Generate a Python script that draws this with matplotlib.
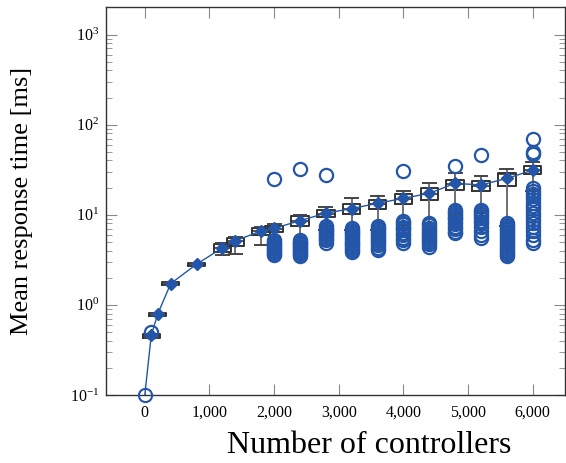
import matplotlib
matplotlib.use("Agg")
import matplotlib.pyplot as plt
from matplotlib.ticker import FuncFormatter, LogLocator

# ==============================
# DATA
# ==============================
positions = [100, 200, 400, 800, 1200, 1400, 1800, 2000, 2400, 2800,
             3200, 3600, 4000, 4400, 4800, 5200, 5600, 6000]

means = [0.46, 0.79, 1.72, 2.82, 4.3, 5.15, 6.6, 7.05, 8.6, 10.4,
         11.7, 13.4, 15.2, 17.3, 22.3, 21.4, 25.3, 31.3]
medians = [0.45, 0.78, 1.7, 2.8, 4.3, 5.1, 6.6, 7.0, 8.5, 10.3,
           11.6, 13.3, 15.0, 17.0, 22.0, 21.0, 28.0, 31.5]
q1 = [0.43, 0.75, 1.64, 2.72, 3.9, 4.5, 6.0, 6.5, 7.5, 9.5,
      10.2, 11.5, 13.1, 14.6, 18.8, 18.5, 20.6, 28.2]
q3 = [0.48, 0.82, 1.78, 2.92, 4.7, 5.5, 7.2, 7.5, 9.8, 11.3,
      13.0, 14.6, 16.8, 19.6, 24.2, 23.8, 28.7, 34.6]
whis_lo = [0.43, 0.75, 1.64, 2.72, 3.6, 3.65, 4.6, 5.0, 4.9, 6.8,
           6.8, 6.8, 7.7, 7.2, 10.3, 10.5, 7.5, 18.5]
whis_hi = [0.48, 0.82, 1.78, 2.92, 4.8, 5.6, 7.4, 7.8, 9.9, 12.1,
           15.4, 16.1, 18.3, 22.6, 28.7, 26.8, 32.0, 38.7]

outliers = [
    [0.5],
    [],
    [],
    [],
    [],
    [],
    [],
    [24.8, 5.2, 5.0, 4.8, 4.6, 4.5, 4.3, 4.2, 4.0, 3.9, 3.7, 3.6],
    [32.0, 5.2, 5.0, 4.8, 4.7, 4.5, 4.4, 4.2, 4.1, 3.9, 3.8, 3.6, 3.5],
    [27.5, 7.5, 7.2, 6.9, 6.6, 6.4, 6.1, 5.9, 5.6, 5.4, 5.2, 4.9],
    [7.1, 6.8, 6.5, 6.2, 5.9, 5.6, 5.4, 5.1, 4.9, 4.7, 4.5, 4.3, 4.1, 3.9],
    [7.5, 7.2, 6.9, 6.6, 6.3, 6.0, 5.7, 5.4, 5.1, 4.8, 4.6, 4.3, 4.1],
    [30.5, 8.6, 8.2, 7.8, 7.4, 7.1, 6.8, 6.3, 5.9, 5.5, 5.2, 4.8],
    [8.0, 7.6, 7.2, 6.8, 6.4, 6.1, 5.8, 5.5, 5.2, 5.0, 4.7, 4.4],
    [34.6, 11.3, 10.8, 10.3, 9.8, 9.3, 8.9, 8.4, 7.9, 7.4, 6.9, 6.5, 6.2],
    [45.7, 11.3, 10.8, 10.3, 9.8, 9.2, 8.6, 8.0, 7.3, 6.6, 6.0, 5.5],
    [8.1, 7.7, 7.3, 7.0, 6.6, 6.3, 6.0, 5.7, 5.4, 5.1, 4.9, 4.6, 4.4,
     4.2, 4.0, 3.8, 3.6, 3.5],
    [70.0, 49.5, 47.0, 19.6, 18.4, 17.2, 16.0, 14.8, 13.6, 12.5, 11.5,
     10.5, 9.6, 8.8, 8.0, 7.3, 6.6, 5.9, 5.3, 4.8],
]

# single point at 0 controllers (open circle at the axis floor)
zero_x = 0
zero_y = 0.1

blue = "#2356a8"

plt.rcParams["font.family"] = "Liberation Serif"
plt.rcParams["mathtext.fontset"] = "stix"

fig = plt.figure(figsize=(5.66, 4.63), dpi=100)
ax = fig.add_axes([0.1873, 0.147, 0.811, 0.837])

stats = []
for i, p in enumerate(positions):
    stats.append(dict(med=medians[i], q1=q1[i], q3=q3[i],
                      whislo=whis_lo[i], whishi=whis_hi[i],
                      mean=means[i], fliers=outliers[i]))

ax.bxp(stats, positions=positions, widths=270, capwidths=200,
       showmeans=False, patch_artist=False,
       boxprops=dict(color="#333333", linewidth=1.4),
       medianprops=dict(color="#333333", linewidth=1.2),
       whiskerprops=dict(color="#707070", linewidth=1.4),
       capprops=dict(color="#444444", linewidth=1.4),
       flierprops=dict(marker="o", markerfacecolor="none", markeredgecolor=blue,
                       markersize=9.5, markeredgewidth=1.6),
       manage_ticks=False)

# mean line with diamonds
ax.plot([zero_x] + positions[:1], [zero_y] + means[:1], color=blue,
        linewidth=1.0, zorder=5)
ax.plot(positions, means, color=blue, linewidth=1.0, marker="D",
        markersize=6, markerfacecolor=blue, markeredgecolor=blue, zorder=5)
ax.plot([zero_x], [zero_y], marker="o", markerfacecolor="none",
        markeredgecolor=blue, markersize=9.5, markeredgewidth=1.5,
        clip_on=False, zorder=6)

ax.set_yscale("log")
ax.set_ylim(0.1, 2000)
ax.set_xlim(-600, 6500)
ax.set_xticks([0, 1000, 2000, 3000, 4000, 5000, 6000])
ax.xaxis.set_major_formatter(FuncFormatter(lambda v, _: f"{int(v):,}"))
ax.yaxis.set_major_locator(LogLocator(base=10, numticks=10))
ax.yaxis.set_minor_locator(LogLocator(base=10, subs=range(2, 10), numticks=20))

ax.tick_params(axis="both", which="major", direction="in", top=True, right=True,
               length=8, width=0.8, color="#888888", labelsize=11.5)
ax.tick_params(axis="x", which="major", pad=7)
ax.tick_params(axis="y", which="major", pad=5)
ax.tick_params(axis="y", which="minor", direction="in", right=True,
               length=4, width=0.6, color="#888888")
for s in ax.spines.values():
    s.set_color("#333333")
    s.set_linewidth(1.0)

ax.set_xlabel("Number of controllers", fontsize=23)
ax.xaxis.set_label_coords(0.573, -0.094)
ax.set_ylabel("Mean response time [ms]", fontsize=19)
ax.yaxis.set_label_coords(-0.16, 0.5)

fig.savefig("out.png", dpi=100)
